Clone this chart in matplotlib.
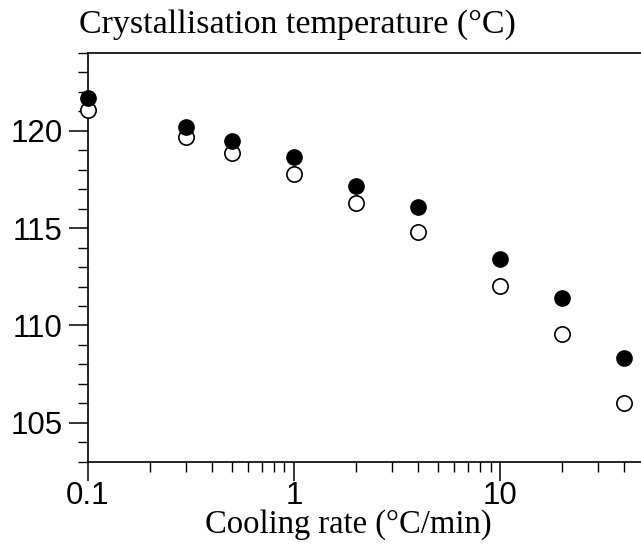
import numpy as np
import matplotlib
matplotlib.use("Agg")
import matplotlib.pyplot as plt
from matplotlib.ticker import LogLocator, NullFormatter, MultipleLocator

# cooling rates (°C/min) and crystallisation temperatures (°C)
rates = [0.1, 0.3, 0.5, 1, 2, 4, 10, 20, 40]
temp_filled = [121.7, 120.2, 119.5, 118.65, 117.15, 116.1, 113.4, 111.4, 108.35]
temp_open = [121.05, 119.7, 118.85, 117.8, 116.3, 114.8, 112.05, 109.55, 106.0]

x_ticks = [0.1, 1, 10]
x_ticklabels = ['0.1', '1', '10']
y_ticks = [105, 110, 115, 120]

serif = 'Liberation Serif'
sans = 'Liberation Sans'

fig = plt.figure(figsize=(6.41, 5.44), dpi=100)
ax = fig.add_axes([0.1368, 0.1513, 0.868, 0.7513])

ax.plot(rates, temp_open, 'o', ms=11, mfc='white', mec='black', mew=1.2,
        clip_on=False, zorder=3)
ax.plot(rates, temp_filled, 'o', ms=11, mfc='black', mec='black', mew=1.0,
        clip_on=False, zorder=4)

ax.set_xscale('log')
ax.set_xlim(0.1, 50)
ax.set_ylim(103, 124)

ax.set_xticks(x_ticks)
ax.set_xticklabels(x_ticklabels)
ax.xaxis.set_minor_locator(LogLocator(base=10, subs=np.arange(2, 10)))
ax.xaxis.set_minor_formatter(NullFormatter())
ax.set_yticks(y_ticks)
ax.yaxis.set_minor_locator(MultipleLocator(1))

ax.tick_params(which='major', direction='out', length=14, width=1.1, pad=4,
               labelsize=22.5)
ax.tick_params(axis='x', which='major', pad=0)
ax.tick_params(which='minor', direction='out', length=7, width=1.0)
ax.tick_params(top=False, right=False, which='both')
for lab in ax.get_xticklabels() + ax.get_yticklabels():
    lab.set_fontfamily(sans)

for s in ax.spines.values():
    s.set_linewidth(1.2)

fig.text(79 / 641, (544 - 33) / 544, 'Crystallisation temperature (°C)',
         fontsize=24.5, family=serif, ha='left', va='baseline')
fig.text(205 / 641, (544 - 533) / 544, 'Cooling rate (°C/min)',
         fontsize=23.5, family=serif, ha='left', va='baseline')

fig.savefig('out.png', dpi=100)
